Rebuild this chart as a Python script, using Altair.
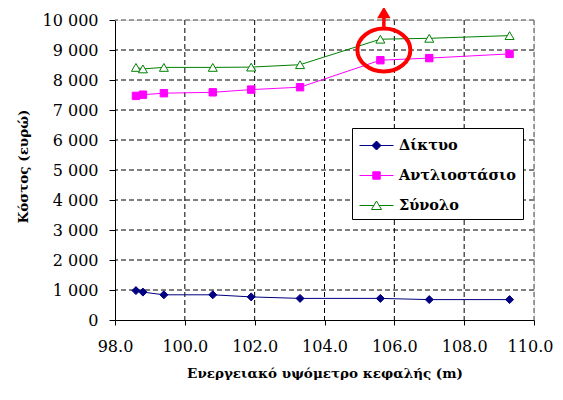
import altair as alt
import pandas as pd

# ---- data ----
head = [98.6, 98.8, 99.4, 100.8, 101.9, 103.3, 105.6, 107.0, 109.3]
network = [980, 930, 840, 840, 770, 720, 720, 680, 680]
pump = [7470, 7510, 7560, 7590, 7680, 7760, 8660, 8730, 8870]
total = [8420, 8370, 8420, 8420, 8430, 8510, 9360, 9390, 9480]

series_names = ["Δίκτυο", "Αντλιοστάσιο", "Σύνολο"]
series_colors = ["#000080", "#FF00FF", "#008000"]
series_fills = ["#000080", "#FF00FF", "#FFFFFF"]
series_shapes = ["diamond", "square", "triangle-up"]
marker_sizes = [64, 55, 81]

x_ticks = [98.0, 100.0, 102.0, 104.0, 106.0, 108.0, 110.0]
y_ticks = [0, 1000, 2000, 3000, 4000, 5000, 6000, 7000, 8000, 9000, 10000]

x_title = "Ενεργειακό υψόμετρο κεφαλής (m)"
y_title = "Κόστος (ευρώ)"

# annotation (red ellipse + arrow) in data units
highlight_x = [105.7]
highlight_y = [9000]
arrow_y = [9770]
arrow_y2 = [10100]
arrow_head_y = [10233]

# legend symbols: short line with the series marker
legend_paths = [
    "M-1.7,0L1.7,0M0,-0.45L0.45,0L0,0.45L-0.45,0Z",
    "M-1.7,0L1.7,0M-0.37,-0.37L0.37,-0.37L0.37,0.37L-0.37,0.37Z",
    "M-1.7,0L-0.27,0M0.27,0L1.7,0M0,-0.45L0.5,0.4L-0.5,0.4Z",
]

SERIF = "DejaVu Serif"

rows = []
for name, vals in zip(series_names, [network, pump, total]):
    for h, v in zip(head, vals):
        rows.append({"head": h, "cost": v, "series": name})
df = pd.DataFrame(rows)

xscale = alt.Scale(domain=[x_ticks[0], x_ticks[-1]], nice=False, zero=False)
yscale = alt.Scale(domain=[y_ticks[0], y_ticks[-1]], nice=False)

x_axis = alt.Axis(values=x_ticks, format=".1f", grid=False,
                  domainColor="black", tickColor="black", tickSize=5,
                  labelFont=SERIF, labelFontSize=16, labelColor="black",
                  labelBaseline="alphabetic", labelPadding=26, labelFlush=False,
                  labelOffset={"condition": {"test": "datum.value >= 110", "value": -4},
                               "value": 0},
                  titleFont=SERIF, titleFontSize=13.5, titleFontWeight="bold",
                  titleColor="black", titleY=57, titleBaseline="alphabetic")
y_axis = alt.Axis(values=y_ticks, grid=False,
                  labelExpr="datum.value == 0 ? '0' : format(floor(datum.value / 1000), 'd') + ' 000'",
                  domainColor="black", tickColor="black", tickSize=6,
                  labelFont=SERIF, labelFontSize=16, labelColor="black",
                  labelPadding=11,
                  titleFont=SERIF, titleFontSize=13.5, titleFontWeight="bold",
                  titleColor="black", titleX=-92, titleY=146,
                  titleBaseline="middle")


def X(field):
    return alt.X(field, type="quantitative", scale=xscale, axis=x_axis, title=x_title)


def Y(field):
    return alt.Y(field, type="quantitative", scale=yscale, axis=y_axis, title=y_title)


grid_x = pd.DataFrame({"v": x_ticks[1:-1]})
grid_y = pd.DataFrame({"v": y_ticks[1:-1]})
border_x = pd.DataFrame({"v": x_ticks[-1:]})
border_y = pd.DataFrame({"v": y_ticks[-1:]})

gx = alt.Chart(grid_x).mark_rule(color="black", strokeDash=[5, 3], strokeWidth=1).encode(x=X("v"))
gy = alt.Chart(grid_y).mark_rule(color="black", strokeDash=[5, 3], strokeWidth=1).encode(y=Y("v"))
bx = alt.Chart(border_x).mark_rule(color="#808080", strokeDash=[5, 3], strokeWidth=1.5).encode(x=X("v"))
by = alt.Chart(border_y).mark_rule(color="#808080", strokeDash=[5, 3], strokeWidth=1.5).encode(y=Y("v"))

base = alt.Chart(df)
layers = [gx, gy, bx, by]

for name, col in zip(series_names, series_colors):
    layers.append(
        base.transform_filter(alt.datum.series == name)
        .mark_line(color=col, strokeWidth=1)
        .encode(x=X("head"), y=Y("cost"))
    )
for name, col, fil, shp, sz in zip(series_names, series_colors, series_fills,
                                  series_shapes, marker_sizes):
    layers.append(
        base.transform_filter(alt.datum.series == name)
        .mark_point(shape=shp, stroke=col, fill=fil, fillOpacity=1, opacity=1,
                    strokeWidth=1, size=sz, filled=False)
        .encode(x=X("head"), y=Y("cost"))
    )

ann = pd.DataFrame({"x": highlight_x, "y": highlight_y,
                    "ay": arrow_y, "ay2": arrow_y2, "hy": arrow_head_y})
ann_base = alt.Chart(ann)
layers.append(
    ann_base.mark_point(shape="M-1,0A1,0.81 0 1,0 1,0A1,0.81 0 1,0 -1,0",
                        size=2809, stroke="#FF0000", strokeWidth=4, filled=False,
                        opacity=1)
    .encode(x=X("x"), y=Y("y"))
)
layers.append(
    ann_base.mark_rule(color="#FF0000", strokeWidth=3.5)
    .encode(x=X("x"), y=Y("ay"), y2="ay2:Q")
)
layers.append(
    ann_base.mark_point(shape="triangle-up", size=100, fill="#FF0000",
                        stroke="#FF0000", filled=True, opacity=1)
    .encode(x=X("x"), y=Y("hy"))
)

leg = dict(title=None, orient="none", legendX=237, legendY=108,
           symbolSize=400, symbolStrokeWidth=1, symbolOpacity=1,
           labelFont=SERIF, labelFontSize=14.5, labelFontWeight="bold",
           labelColor="black", strokeColor="black", fillColor="white",
           padding=7, rowPadding=13, symbolOffset=7, labelOffset=12,
           cornerRadius=0)
layers.append(
    base.mark_point(opacity=0, filled=False).encode(
        x=X("head"), y=Y("cost"),
        shape=alt.Shape("series:N", scale=alt.Scale(domain=series_names, range=legend_paths),
                        legend=alt.Legend(**leg)),
        stroke=alt.Stroke("series:N", scale=alt.Scale(domain=series_names, range=series_colors),
                          legend=alt.Legend(**leg)),
        fill=alt.Fill("series:N", scale=alt.Scale(domain=series_names, range=series_fills),
                      legend=alt.Legend(**leg)),
    )
)

chart = alt.layer(*layers).properties(
    width=419, height=300,
    padding={"left": 107, "top": 12, "right": 21, "bottom": 60},
    autosize=alt.AutoSizeParams(type="none"),
).configure_view(stroke=None).configure(background="white")

chart.save("out.html", embed_options={"renderer": "svg", "actions": False})
